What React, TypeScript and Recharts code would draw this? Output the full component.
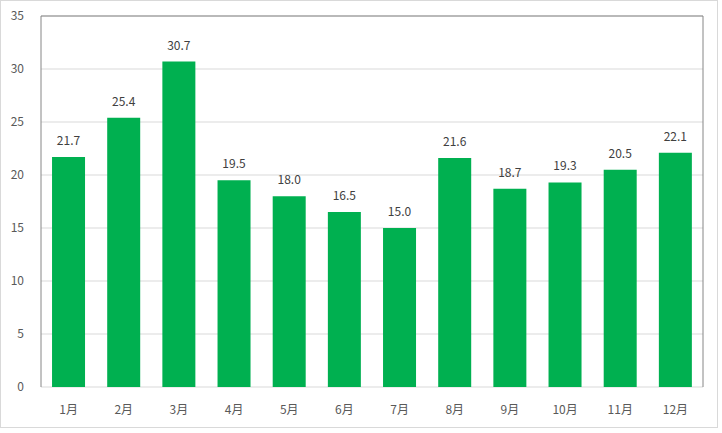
import { Bar, BarChart, CartesianGrid, LabelList, XAxis, YAxis } from "recharts";

const months = ["1月", "2月", "3月", "4月", "5月", "6月", "7月", "8月", "9月", "10月", "11月", "12月"];
const values = [21.7, 25.4, 30.7, 19.5, 18.0, 16.5, 15.0, 21.6, 18.7, 19.3, 20.5, 22.1];
const yTicks = [0, 5, 10, 15, 20, 25, 30, 35];
// category boundaries, for Excel-style tick marks between the months
const boundaries = [0, 1, 2, 3, 4, 5, 6, 7, 8, 9, 10, 11, 12];

const data = months.map((m, i) => ({ month: m, value: values[i] }));

const FONT = "'Noto Sans CJK JP', 'Noto Sans', sans-serif";
const TEXT = "#595959";
const GRID = "#d9d9d9";
const FRAME = "#868686";

export default function App() {
  return (
    <div
      style={{
        position: "absolute",
        left: 0,
        top: 0,
        width: 718,
        height: 428,
        boxSizing: "border-box",
        border: `1px solid ${GRID}`,
        background: "#fff",
        fontFamily: FONT,
      }}
    >
      <BarChart
        width={716}
        height={426}
        data={data}
        margin={{ top: 0, right: 0, bottom: 0, left: 0 }}
        barCategoryGap="20%"
      >
        <CartesianGrid vertical={false} stroke={GRID} yAxisId="left" xAxisId="cat" />
        <XAxis
          xAxisId={0}
          type="number"
          domain={[0, 12]}
          ticks={boundaries}
          height={0}
          axisLine={{ stroke: GRID }}
          tickLine={{ stroke: GRID }}
          tickSize={5}
          tickFormatter={() => ""}
        />
        <XAxis
          xAxisId="cat"
          dataKey="month"
          height={40}
          axisLine={false}
          tickLine={false}
          tickSize={0}
          tickMargin={18}
          interval={0}
          tick={{ fill: TEXT, fontSize: 12, fontFamily: FONT }}
        />
        <XAxis
          xAxisId="top"
          orientation="top"
          dataKey="month"
          height={15}
          axisLine={{ stroke: FRAME }}
          tickLine={false}
          tick={false}
        />
        <YAxis
          yAxisId="left"
          width={40}
          domain={[0, 35]}
          ticks={yTicks}
          interval={0}
          axisLine={{ stroke: FRAME }}
          tickLine={false}
          tickSize={5}
          tickMargin={12}
          tick={{ fill: TEXT, fontSize: 12, fontFamily: FONT }}
        />
        <YAxis
          yAxisId="right"
          orientation="right"
          width={14}
          domain={[0, 35]}
          ticks={yTicks}
          axisLine={{ stroke: FRAME }}
          tickLine={false}
          tick={false}
        />
        <Bar dataKey="value" xAxisId="cat" yAxisId="left" fill="#00b050" isAnimationActive={false}>
          <LabelList
            dataKey="value"
            position="top"
            offset={12}
            formatter={(v: number) => Number(v).toFixed(1)}
            style={{ fill: "#404040", fontSize: 12, fontFamily: FONT }}
          />
        </Bar>
      </BarChart>
    </div>
  );
}
